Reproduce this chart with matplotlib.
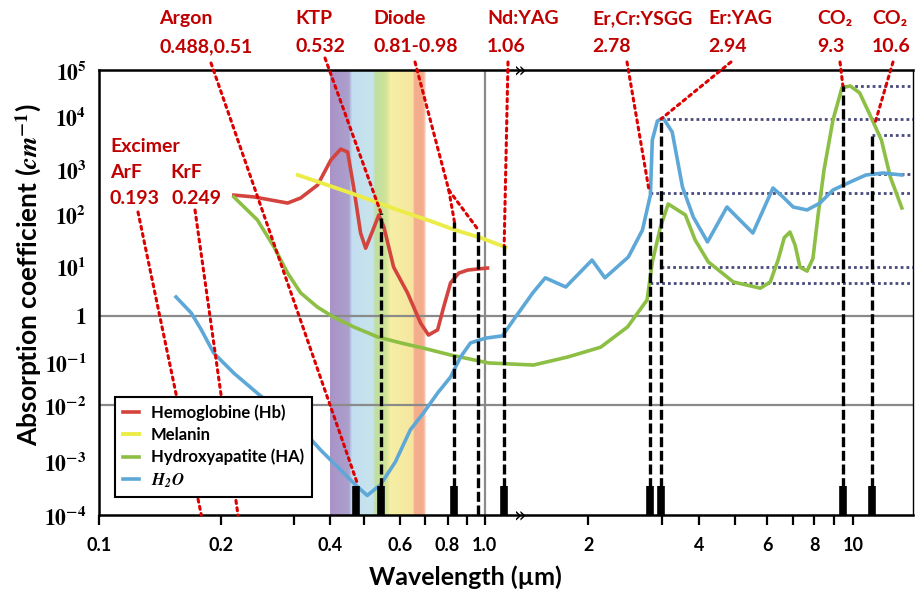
import numpy as np
import matplotlib.pyplot as plt
from matplotlib.colors import to_rgb
from matplotlib.ticker import NullLocator

# --- DATA ---
hb_wl = [0.215, 0.240, 0.290, 0.317, 0.363, 0.403, 0.430, 0.450, 0.468, 0.490, 0.505, 0.524, 0.540,
         0.554, 0.582, 0.630, 0.683, 0.716, 0.755, 0.782, 0.815, 0.857, 0.906, 0.960, 1.02]
hb_abs = [263, 240, 175, 227, 440, 1480, 2380, 2090, 400, 43, 22, 49, 96,
          56, 9.5, 2.9, 0.70, 0.386, 0.50, 1.51, 4.6, 7.2, 8.3, 8.7, 9.1]

mel_wl = [0.310, 0.459, 0.604, 0.725, 0.840, 0.977, 1.15]
mel_abs = [736, 293, 117, 73, 49, 35, 23]

ha_wl = [0.215, 0.245, 0.269, 0.290, 0.317, 0.363, 0.410, 0.468, 0.537, 0.604, 0.695, 0.815, 1.027,
         1.386, 1.74, 2.14, 2.48, 2.76, 2.84, 2.97, 3.14, 3.34, 3.59, 3.87, 4.23, 4.94, 5.77, 6.11,
         6.40, 6.64, 6.87, 7.09, 7.31, 7.65, 7.94, 8.19, 8.48, 8.94, 9.40, 9.84, 10.2, 10.5, 10.9,
         11.2, 11.6]
ha_abs = [239, 77, 23, 7.2, 2.9, 1.5, 0.95, 0.58, 0.35, 0.26, 0.20, 0.142, 0.095,
          0.085, 0.128, 0.21, 0.58, 2.1, 12, 56, 167, 129, 96, 32, 12, 4.8, 3.6, 4.8,
          13, 35, 45, 25, 9.5, 7.9, 14, 96, 950, 8400, 41000, 45000, 32000, 11600, 3520,
          664, 136]

h2o_wl = [0.155, 0.169, 0.179, 0.192, 0.215, 0.240, 0.274, 0.317, 0.372, 0.430, 0.474, 0.509,
          0.544, 0.587, 0.641, 0.695, 0.755, 0.815, 0.867, 0.921, 1.007, 1.127, 1.23, 1.38,
          1.50, 1.72, 2.04, 2.19, 2.49, 2.69, 2.81, 2.84, 2.92, 3.02, 3.24, 3.51, 3.82, 4.21,
          4.75, 5.53, 6.21, 6.59, 7.0, 7.65, 8.28, 8.94, 9.84, 10.4, 10.96, 11.6]
h2o_abs = [2.4, 1.15, 0.50, 0.157, 0.055, 0.0223, 0.0081, 0.0039, 0.00157, 6.8e-4, 3.6e-4, 2.3e-4,
           3.6e-4, 9.6e-4, 0.0036, 0.0072, 0.019, 0.0448, 0.128, 0.26, 0.33, 0.37, 0.95, 2.9,
           5.8, 3.8, 13, 5.8, 14.9, 49, 264, 3520, 8050, 9170, 4990, 398, 87, 29,
           143, 43, 378, 239, 143, 123, 175, 341, 514, 736, 815, 736]

laser_names = ['Argon', 'KTP', 'Diode', 'Nd:YAG', 'Er,Cr:YSGG', 'Er:YAG', 'CO₂', 'CO₂']
laser_labels = ['0.488,0.51', '0.532', '0.81-0.98', '1.06', '2.78', '2.94', '9.3', '10.6']

# laser lines where they sit on the axis
line_wl = [0.476, 0.545, 0.835, 0.965, 1.14, 2.81, 2.98, 9.45, 10.6]
line_top = [None, 105, 70, 49, 25, 96, 8400, 45000, 4400]
line_bar = [True, True, True, False, True, True, True, True, True]
bar_top = 3.4e-4

# dotted levels to the right edge
level_wl = [9.45, 2.98, 10.6, 10.6, 2.81, 2.98, 2.81]
level_abs = [45000, 8800, 4400, 775, 293, 9.5, 4.6]

# where the red leaders end
leader_wl = [0.478, 0.545, 0.806, 1.14, 2.79, 2.98, 9.45, 10.7, 0.179, 0.220]
leader_abs = [4.1e-4, 110, 341, 25, 330, 8800, 45000, 7700, 1e-4, 1e-4]
diode_wl = [0.835, 0.965]
diode_abs = [70, 49]

x_ticks = [0.1, 0.2, 0.4, 0.6, 0.8, 1.0, 2, 4, 6, 8, 10]
x_ticklabels = ['0.1', '0.2', '0.4', '0.6', '0.8', '1.0', '2', '4', '6', '8', '10']
x_minor = [0.3, 0.5, 0.7, 0.9, 3, 5, 7, 9]
y_exp = list(range(-4, 6))

# --- the hand-drawn axis scales of the original ---
X_T = np.log10([0.01, 0.1, 0.2, 0.3, 0.4, 0.5, 0.6, 0.7, 0.8, 0.9, 1, 2, 3, 4, 5, 6, 7, 8, 9, 10, 12, 120])
X_P = np.array([-302, 98, 220, 293, 329, 363, 399, 424, 447, 466, 484, 588, 662, 699, 735,
                767, 793, 814, 834, 853, 913, 1670], dtype=float)
Y_T = np.array([-6, -4, -3, -2, -1, 0, 1, 2, 3, 4, 5, 7], dtype=float)
Y_P = np.array([615, 515, 461, 405, 362, 316, 266, 214, 169, 116, 70, -30], dtype=float)


def fx(v):
    return np.interp(np.log10(np.clip(v, 1e-12, None)), X_T, X_P)


def fx_inv(t):
    return 10 ** np.interp(t, X_P, X_T)


def fy(v):
    return -np.interp(np.log10(np.clip(v, 1e-30, None)), Y_T, Y_P)


def fy_inv(t):
    return 10 ** np.interp(-np.asarray(t), Y_P[::-1], Y_T[::-1])


plt.rcParams['font.family'] = ['Lato', 'DejaVu Sans']
plt.rcParams['font.weight'] = 'bold'
plt.rcParams['mathtext.fontset'] = 'stix'

W, H = 915, 595
fig = plt.figure(figsize=(W / 100, H / 100), dpi=100)
ax = fig.add_axes([99 / W, 1 - 515 / H, 814 / W, 445 / H])
ax.set_xscale('function', functions=(fx, fx_inv))
ax.set_yscale('function', functions=(fy, fy_inv))
ax.set_xlim(0.1, 12)
ax.set_ylim(1e-4, 1e5)

# rainbow band of the visible range
band_wl = [0.40, 0.453, 0.465, 0.524, 0.531, 0.559, 0.572, 0.650, 0.659, 0.695, 0.705]
band_col = ['#a993c8', '#ab9fcc', '#c2def0', '#c6e3ec', '#c0de9f', '#cde397', '#f5eea4',
            '#f6e59e', '#f4ad8c', '#f3ad8e', '#fbe6dc']
band_rgb = np.array([to_rgb(c) for c in band_col])
edges = np.linspace(0.40, 0.705, 121)
for a, b in zip(edges[:-1], edges[1:]):
    m = 0.5 * (a + b)
    c = [np.interp(m, band_wl, band_rgb[:, k]) for k in range(3)]
    ax.axvspan(a, b, color=c, lw=0, zorder=0)

# gray reference lines
for yv in (1, 1e-2):
    ax.axhline(yv, color='#8a8a8a', lw=1.6, zorder=1)
ax.axvline(1.0, color='#8a8a8a', lw=1.6, zorder=1)

# curves
ax.plot(hb_wl, hb_abs, color='#d4443e', lw=2.6, label='Hemoglobine (Hb)', zorder=3)
ax.plot(mel_wl, mel_abs, color='#ecec48', lw=2.8, label='Melanin', zorder=3)
ax.plot(ha_wl, ha_abs, color='#8dbf45', lw=2.6, label='Hydroxyapatite (HA)', zorder=3)
ax.plot(h2o_wl, h2o_abs, color='#5ea8d8', lw=2.6, label=r'$\mathbfit{H_2O}$', zorder=3)

# dotted levels
ax.hlines(level_abs, level_wl, 12, colors='#4a4a7c', lw=2.0, linestyles=(0, (1, 1.1)), zorder=2)

# laser lines
for wl, top, bar in zip(line_wl, line_top, line_bar):
    if top is not None:
        ax.plot([wl, wl], [1e-4, top], color='black', lw=2.4, ls=(0, (3, 1.1)), zorder=4)
    if bar:
        ax.vlines(wl, 1e-4, bar_top, color='black', lw=5.5, capstyle='butt', zorder=4)

# red dotted leaders from the labels
red = '#dd0000'
lead = dict(arrowstyle='-', color=red, lw=2.2, linestyle=(0, (1, 1.4)), shrinkA=0, shrinkB=0)
lead_from = [(211, 63), (325, 58), (415, 62), (508, 62), (627, 62), (731, 62),
             (840, 62), (893, 62), (138, 212), (195, 210)]
for (px, py), wl, val in zip(lead_from, leader_wl, leader_abs):
    ax.annotate('', xy=(wl, val), xytext=(px, H - py), textcoords='figure pixels',
                arrowprops=lead, annotation_clip=False, zorder=3.5)
for wl, val in zip(diode_wl, diode_abs):
    ax.annotate('', xy=(wl, val), xytext=(leader_wl[2], leader_abs[2]),
                arrowprops=lead, annotation_clip=False, zorder=3.5)

# laser labels
text_red = '#c00000'
fs_lab = 14
name_x = [159, 295, 373, 487, 592, 708, 817, 872]
for x, name, lab in zip(name_x, laser_names, laser_labels):
    fig.text(x / W, 1 - 24 / H, name, color=text_red, fontsize=fs_lab, fontweight='bold', va='baseline')
    fig.text(x / W, 1 - 52 / H, lab, color=text_red, fontsize=fs_lab, fontweight='bold', va='baseline')
fig.text(110 / W, 1 - 152 / H, 'Excimer', color=text_red, fontsize=fs_lab, fontweight='bold', va='baseline')
fig.text(110 / W, 1 - 178 / H, 'ArF', color=text_red, fontsize=fs_lab, fontweight='bold', va='baseline')
fig.text(170 / W, 1 - 178 / H, 'KrF', color=text_red, fontsize=fs_lab, fontweight='bold', va='baseline')
fig.text(110 / W, 1 - 204 / H, '0.193', color=text_red, fontsize=fs_lab, fontweight='bold', va='baseline')
fig.text(172 / W, 1 - 204 / H, '0.249', color=text_red, fontsize=fs_lab, fontweight='bold', va='baseline')

# axis break marks
for yv in (1.0, 0.0):
    ax.text(1.27, yv, '»', transform=ax.get_xaxis_transform(), ha='center', va='center',
            fontsize=15, family='DejaVu Sans', fontweight='normal', clip_on=False, zorder=6)

# axes cosmetics
ax.set_xticks(x_ticks)
ax.set_xticklabels(x_ticklabels, fontsize=13, fontweight='bold')
ax.set_xticks(x_minor, minor=True)
ax.tick_params(axis='x', which='both', direction='out', length=7, width=1.6, pad=9)
ax.set_yticks([10.0 ** e for e in y_exp])
ax.set_yticklabels([r'$\mathbf{1}$' if e == 0 else r'$\mathbf{10^{%d}}$' % e for e in y_exp], fontsize=15.5)
ax.yaxis.set_minor_locator(NullLocator())
ax.tick_params(axis='y', length=0, pad=9)
for side in ('top', 'left', 'bottom'):
    ax.spines[side].set_linewidth(1.8)
ax.spines['right'].set_linewidth(1.0)

ax.set_xlabel('Wavelength (µm)', fontsize=18, fontweight='bold')
ax.xaxis.set_label_coords((465 - 99) / 814, -(565 - 515) / 445)
ax.set_ylabel(r'Absorption coefficient ($\mathbfit{cm}^{\mathbf{-1}}$)', fontsize=19, fontweight='bold')
ax.yaxis.set_label_coords((44 - 99) / 814, (515 - 275) / 445)

leg = ax.legend(loc='lower left', bbox_to_anchor=(0.02, 0.04), borderaxespad=0,
                prop={'weight': 'bold', 'size': 12}, handlelength=1.0, handletextpad=0.7,
                labelspacing=0.35, fancybox=False, framealpha=1, edgecolor='black', borderpad=0.45)
leg.get_frame().set_linewidth(1.5)
leg.set_zorder(7)

fig.savefig('out.png', dpi=100)
